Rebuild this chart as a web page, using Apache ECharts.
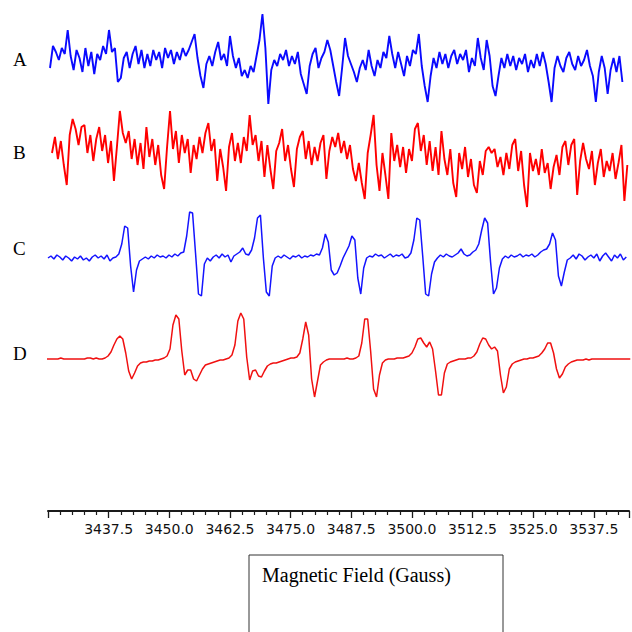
<!DOCTYPE html>
<html><head><meta charset="utf-8">
<script src="https://cdn.jsdelivr.net/npm/echarts@6/dist/echarts.min.js"></script>
<style>html,body{margin:0;padding:0;background:#fff}#c{width:632px;height:632px}</style>
</head><body><div id="c"></div><script>
// Field axis (Gauss)
const fieldMin = 3425, fieldMax = 3544.75, fieldInterval = 12.5;
const tickLabels = ['3437.5','3450.0','3462.5','3475.0','3487.5','3500.0','3512.5','3525.0','3537.5'];
const traceNames = ['A','B','C','D'];
const axisTitle = 'Magnetic Field (Gauss)';
// sampling of each spectrum (field of first sample, step in Gauss)
const sampleStep = 0.605;
const startA = 3425.41, startB = 3425.82, startC = 3425.0, startD = 3424.0;

// spectrum A (blue, noise only)
const traceA = [-6,16,10,2,14,8,32,6,-8,12,4,-10,14,-4,10,-12,8,2,16,8,
32,10,14,-20,-16,4,10,-6,8,16,-2,12,-6,8,-4,12,2,10,-6,14,
4,12,-2,10,2,14,6,12,20,28,4,-14,-26,-2,6,-4,10,20,2,8,
-4,26,6,-6,4,-14,-8,-16,-4,-10,6,22,48,14,-42,-8,2,-4,8,2,
12,-4,6,-2,10,-12,-22,-32,-4,8,14,-6,4,10,22,12,-4,-20,-34,-6,
24,6,-2,-10,-20,-6,2,-8,12,-4,-14,2,-6,10,4,26,8,-6,10,-2,
-14,6,-4,12,8,28,-4,-24,-40,-14,4,-6,10,-2,8,-6,6,12,-2,8,
2,12,-10,4,-4,24,4,-8,22,6,-24,-34,-14,4,-6,8,-4,6,-8,4,
-2,8,-10,2,-6,8,-4,10,-2,-20,-40,-6,6,-4,-10,4,10,-2,-8,6,
-4,2,12,-4,-14,-40,-10,6,-6,-32,-8,4,-10,6,-20];

// spectrum B (red, noise only)
const traceB = [2,18,-4,14,-10,-30,20,36,26,10,28,30,2,20,-6,16,28,4,20,-8,
14,-26,8,44,22,12,24,-4,16,-10,12,-14,28,-2,16,-10,10,-20,-34,8,
44,6,24,-8,20,2,16,-18,10,-4,18,2,22,32,4,16,-26,6,-12,-36,
8,22,-6,12,-8,18,4,40,10,20,-6,14,-22,10,-14,-34,4,12,26,-6,
10,-14,-32,6,18,24,-4,14,-10,8,-6,12,20,-24,4,18,8,22,2,14,
-4,10,-14,-26,-8,-28,-44,2,20,40,-10,-36,2,-20,-44,22,-6,10,-12,8,
-18,6,-6,26,32,4,20,-10,14,-16,8,-20,24,-4,-20,6,-28,-42,2,-14,
8,-22,-4,-30,-38,-6,-20,4,8,2,6,-12,-2,-20,2,-14,10,16,-16,4,
-30,-52,2,-16,-4,-20,6,-18,-8,-34,-12,0,-20,8,14,-10,10,16,-40,-6,
12,-4,-14,4,-30,-8,6,-22,-6,-16,2,-24,-8,10,-46,-10];

// spectrum C (blue, eight lines)
const traceC = [0,2,-1,3,1,-2,2,0,-3,1,-1,2,-2,0,-3,1,3,0,2,-1,
3,-3,0,1,4,14,32,30,-8,-34,-12,-3,-1,1,-1,2,0,3,1,2,
0,3,1,4,2,5,6,22,46,45,5,-36,-38,-6,0,-3,1,3,0,4,
1,3,-4,2,4,6,10,4,3,8,20,40,43,0,-34,-38,-8,0,2,0,
3,1,-1,2,1,3,0,2,1,3,2,4,3,10,24,16,-12,-17,-15,-8,
0,6,12,22,18,-20,-36,-10,0,2,1,4,2,3,0,2,4,1,3,2,
4,0,1,5,18,40,38,2,-36,-38,-16,-4,0,3,1,4,2,1,3,5,
9,4,2,3,6,8,14,28,40,35,-4,-36,-30,-10,-1,2,0,3,1,2,
4,1,3,2,4,1,3,6,8,9,14,25,18,-18,-28,-14,-2,0,3,-1,
4,2,-2,1,3,0,4,-3,2,5,1,-3,3,0,4,-2,1];

// spectrum D (red, simulated)
const traceD = [0,0,0,0,0,0,1,0,0,0,0,0,0,0,0,1,1,0,1,0,
0,1,3,7,14,20,23,20,6,-12,-20,-14,-7,-4,-3,-3,-2,-2,-1,-1,
0,1,3,10,34,44,40,8,-16,-11,-11,-20,-22,-16,-10,-6,-5,-4,-3,-2,
-1,-1,0,1,4,14,38,46,40,2,-21,-12,-11,-17,-18,-12,-7,-5,-4,-4,
-3,-2,-1,0,1,1,2,6,20,37,24,-20,-38,-22,-6,-3,-1,0,0,0,
0,0,0,1,0,0,1,3,16,40,40,8,-30,-38,-16,-4,-1,0,0,0,
1,1,1,2,3,6,12,20,21,16,12,17,10,-12,-36,-36,-14,-5,-3,-2,
-1,0,0,0,1,1,3,7,15,21,20,14,10,12,8,-16,-34,-28,-10,-5,
-3,-2,-1,0,0,1,1,2,3,6,10,16,16,6,-10,-19,-15,-8,-5,-3,
-2,-1,-1,-1,0,-1,0,0,0,0,0,0,0,0,0,0,0,0,0,0];

const traces = [
  {values: traceA, start: startA, color: '#0a0aff', width: 1.9, center: 62},
  {values: traceB, start: startB, color: '#ff0000', width: 1.9, center: 155},
  {values: traceC, start: startC, color: '#1414ff', width: 1.5, center: 258},
  {values: traceD, start: startD, color: '#f01010', width: 1.5, center: 359}
];

const grids = [], xAxes = [], yAxes = [], series = [];
traces.forEach((t, k) => {
  grids.push({left: 48, right: 0, top: t.center - 60, height: 120});
  xAxes.push({type: 'value', gridIndex: k, min: fieldMin, max: fieldMax, show: false});
  yAxes.push({type: 'value', gridIndex: k, min: -60, max: 60, show: false});
  series.push({
    type: 'line', xAxisIndex: k, yAxisIndex: k, showSymbol: false, symbol: 'none',
    clip: false, animation: false,
    lineStyle: {color: t.color, width: t.width},
    data: t.values.map((v, i) => [t.start + i * sampleStep, v])
  });
});
// field axis
grids.push({left: 48, right: 0, top: 450, bottom: 121});
xAxes.push({
  type: 'value', gridIndex: 4, min: fieldMin, max: fieldMax, interval: fieldInterval,
  axisLine: {show: true, onZero: false, lineStyle: {color: '#1a1a1a', width: 2}},
  axisTick: {show: true, length: 7, lineStyle: {color: '#1a1a1a', width: 1.3}},
  minorTick: {show: true, splitNumber: 5, length: 4, lineStyle: {color: '#1a1a1a', width: 1.2}},
  splitLine: {show: false}, minorSplitLine: {show: false},
  axisLabel: {
    margin: 11, fontSize: 14, fontFamily: 'DejaVu Sans', color: '#111',
    formatter: v => tickLabels.includes(v.toFixed(1)) ? v.toFixed(1) : ''
  }
});
yAxes.push({type: 'value', gridIndex: 4, show: false, min: 0, max: 1});

const graphic = [];
const labelY = [61, 154, 250, 355];
traceNames.forEach((n, k) => graphic.push({
  type: 'text', left: 13, top: labelY[k] - 11,
  style: {text: n, fontFamily: 'Liberation Serif', fontSize: 19, fill: '#000'}
}));
graphic.push({type: 'rect', shape: {x: 249, y: 555, width: 254, height: 100},
  style: {fill: 'none', stroke: '#333', lineWidth: 1}});
graphic.push({type: 'text', left: 262, top: 565,
  style: {text: axisTitle, fontFamily: 'Liberation Serif', fontSize: 20, fill: '#000'}});

const chart = echarts.init(document.getElementById('c'), null, {renderer: 'svg'});
chart.setOption({animation: false, backgroundColor: '#fff', grid: grids, xAxis: xAxes, yAxis: yAxes, series, graphic});
</script></body></html>
